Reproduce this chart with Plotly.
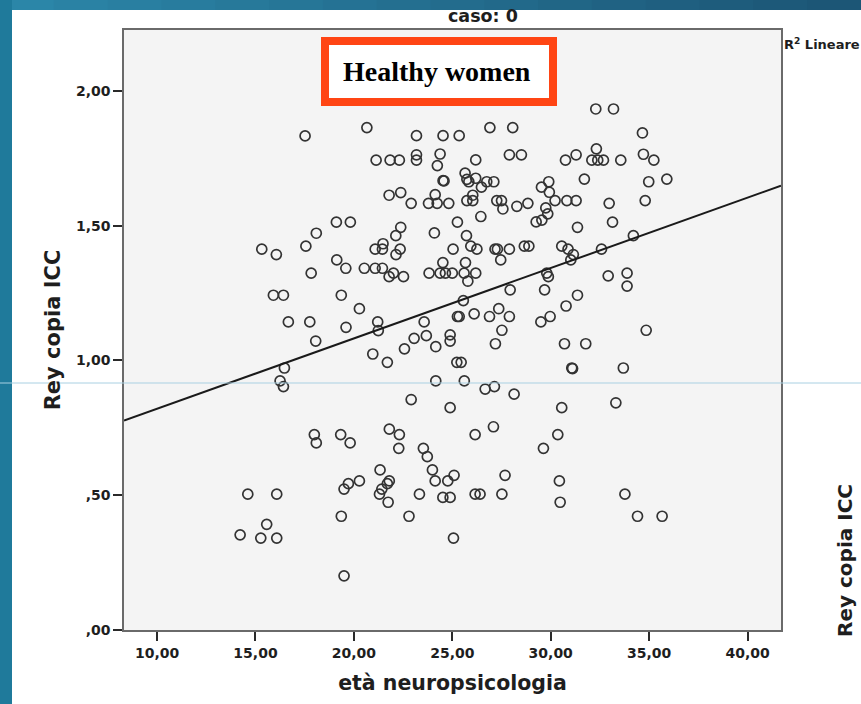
import numpy as np
import plotly.graph_objects as go

# età neuropsicologia (anni) e Rey copia ICC, gruppo caso = 0
eta = [
    17.52, 19.11, 19.82, 18.09, 15.32, 16.06, 17.56, 19.13, 19.59, 17.83,
    20.66, 23.18, 24.53, 25.35, 26.91, 28.07,
    21.13, 21.84, 22.31, 23.18, 23.18, 24.38, 24.24, 26.19, 27.90, 28.51, 30.75, 31.29,
    25.65, 25.74, 25.84, 24.53, 24.58, 26.19, 26.75, 27.11, 26.48,
    21.79, 22.38, 22.91, 24.13, 23.79, 24.23, 24.82, 25.74, 26.04, 26.04, 27.26, 27.50, 27.57, 28.28, 28.84,
    29.53, 29.90, 29.93, 30.22, 30.82, 31.29, 29.75, 29.85, 29.55, 29.26, 31.36,
    26.45, 25.26, 22.38, 22.13, 24.09, 25.72,
    21.48, 21.08, 21.45, 22.35, 22.14, 25.04, 25.94, 26.25, 27.17, 27.29, 27.90, 27.46, 28.66, 28.89, 30.56, 30.88, 31.15, 31.02,
    20.53, 21.08, 21.45, 21.79, 22.01, 22.52, 24.52, 25.67, 23.82, 24.38, 24.65, 25.00, 25.60, 26.19, 25.79, 29.80, 29.88, 27.94, 29.69,
    32.29, 33.19, 34.66, 32.32, 32.09, 32.39, 32.68, 33.56, 34.71, 35.24, 31.71, 34.98, 35.90, 32.97, 34.80, 33.14, 34.20, 32.58, 32.92, 33.88, 33.88,
    15.91, 16.42, 19.36, 20.28, 16.67, 17.76, 19.60, 18.06, 16.47, 16.25, 16.42, 17.99, 18.09, 19.33, 19.81,
    31.36, 25.56, 30.78, 21.21, 21.24, 23.57, 25.26, 25.35, 26.11, 26.89, 27.36, 27.90, 29.50, 29.97,
    23.06, 23.68, 24.89, 24.89, 24.16, 27.52, 27.19, 30.70,
    20.96, 21.70, 22.57, 25.23, 25.45, 31.07, 31.11,
    24.16, 25.61, 26.67, 27.14, 28.14, 22.91, 24.89, 30.56,
    21.80, 22.31, 22.28, 23.53, 23.73, 26.16, 27.09, 30.36, 29.63, 21.33, 23.99,
    34.85, 31.78, 33.69, 33.31,
    14.61, 16.08, 15.57, 14.22, 15.27, 16.08, 19.50, 19.72, 20.28, 19.36, 19.50,
    21.42, 21.80, 21.70, 21.30, 21.74, 23.33, 24.13, 24.77, 25.09, 24.52, 24.89, 26.16, 26.41, 27.52, 27.68, 30.44, 30.48, 22.80, 25.06,
    33.77, 34.41, 35.66,
]

rey_icc = [
    1.833, 1.513, 1.513, 1.472, 1.413, 1.393, 1.424, 1.373, 1.342, 1.324,
    1.864, 1.834, 1.834, 1.834, 1.864, 1.864,
    1.743, 1.743, 1.743, 1.763, 1.743, 1.766, 1.723, 1.744, 1.763, 1.763, 1.743, 1.763,
    1.695, 1.672, 1.663, 1.667, 1.666, 1.676, 1.663, 1.663, 1.643,
    1.613, 1.623, 1.583, 1.615, 1.583, 1.583, 1.583, 1.593, 1.613, 1.593, 1.593, 1.593, 1.562, 1.572, 1.583,
    1.643, 1.663, 1.624, 1.593, 1.593, 1.593, 1.566, 1.544, 1.521, 1.514, 1.494,
    1.534, 1.513, 1.494, 1.463, 1.473, 1.463,
    1.433, 1.413, 1.413, 1.413, 1.393, 1.413, 1.424, 1.413, 1.413, 1.413, 1.413, 1.373, 1.424, 1.424, 1.424, 1.413, 1.393, 1.373,
    1.342, 1.342, 1.342, 1.311, 1.324, 1.311, 1.363, 1.363, 1.324, 1.324, 1.324, 1.324, 1.324, 1.324, 1.294, 1.324, 1.311, 1.262, 1.262,
    1.933, 1.933, 1.844, 1.785, 1.743, 1.743, 1.743, 1.743, 1.765, 1.743, 1.673, 1.663, 1.673, 1.583, 1.593, 1.513, 1.463, 1.413, 1.314, 1.324, 1.276,
    1.242, 1.242, 1.242, 1.192, 1.143, 1.143, 1.123, 1.072, 0.972, 0.924, 0.903, 0.725, 0.694, 0.725, 0.694,
    1.242, 1.222, 1.202, 1.143, 1.111, 1.143, 1.163, 1.163, 1.173, 1.163, 1.192, 1.163, 1.143, 1.163,
    1.082, 1.092, 1.095, 1.072, 1.051, 1.112, 1.062, 1.062,
    1.024, 0.993, 1.043, 0.993, 0.993, 0.972, 0.970,
    0.924, 0.924, 0.894, 0.903, 0.875, 0.855, 0.825, 0.825,
    0.745, 0.725, 0.674, 0.674, 0.643, 0.725, 0.754, 0.725, 0.674, 0.594, 0.594,
    1.112, 1.062, 0.972, 0.843,
    0.504, 0.504, 0.392, 0.353, 0.341, 0.341, 0.523, 0.543, 0.553, 0.422, 0.201,
    0.523, 0.553, 0.543, 0.504, 0.474, 0.504, 0.553, 0.553, 0.574, 0.492, 0.492, 0.504, 0.504, 0.504, 0.574, 0.553, 0.474, 0.422, 0.341,
    0.504, 0.422, 0.422,
]

x_ticks = [10, 15, 20, 25, 30, 35, 40]
x_ticktext = ["10,00", "15,00", "20,00", "25,00", "30,00", "35,00", "40,00"]
y_ticks = [0, 0.5, 1.0, 1.5, 2.0]
y_ticktext = [",00", ",50", "1,00", "1,50", "2,00"]

X_RANGE = [8.32, 41.7]
Y_RANGE = [0, 2.226]

# linear least-squares fit (R² Lineare)
slope, intercept = np.polyfit(np.array(eta), np.array(rey_icc), 1)
fit_x = np.array(X_RANGE)
fit_y = intercept + slope * fit_x

# figure geometry (pixels)
W, H = 861, 704
ML, MR, MT, MB = 124, 80, 30, 74
PW, PH = W - ML - MR, H - MT - MB


def px(xp):
    return (xp - ML) / PW


def py(yp):
    return (H - MB - yp) / PH


BOLD = dict(family="DejaVu Sans", weight="bold", color="#1e1e1e")

fig = go.Figure()
fig.add_trace(go.Scatter(
    x=eta, y=rey_icc, mode="markers",
    marker=dict(symbol="circle-open", size=10, color="#333333",
                line=dict(width=1.7, color="#333333")),
    hoverinfo="skip", showlegend=False,
))
fig.add_trace(go.Scatter(
    x=fit_x, y=fit_y, mode="lines",
    line=dict(color="#1a1a1a", width=2),
    hoverinfo="skip", showlegend=False,
))

shapes = []
# slide frame: teal strip on top (gradient) and on the left
n_seg = 16
c0, c1 = np.array([0x2b, 0x86, 0xa8]), np.array([0x1c, 0x56, 0x76])
for i in range(n_seg):
    t = i / (n_seg - 1)
    c = (c0 * (1 - t) + c1 * t).astype(int)
    shapes.append(dict(
        type="rect", xref="paper", yref="paper", layer="above",
        x0=px(W * i / n_seg), x1=px(W * (i + 1) / n_seg + 1),
        y0=py(10), y1=py(0),
        line=dict(width=0), fillcolor="rgb(%d,%d,%d)" % tuple(c),
    ))
shapes.append(dict(
    type="rect", xref="paper", yref="paper", layer="above",
    x0=px(0), x1=px(12), y0=py(H), y1=py(0),
    line=dict(width=0), fillcolor="#1f7a9b",
))
# thin light-blue rule across the slide
shapes.append(dict(
    type="line", xref="paper", yref="paper", layer="above",
    x0=px(0), x1=px(W), y0=py(383), y1=py(383),
    line=dict(color="#a9d0e2", width=1),
))
# red label box
shapes.append(dict(
    type="rect", xref="paper", yref="paper", layer="above",
    x0=px(325), x1=px(553), y0=py(102), y1=py(41),
    line=dict(color="#ff4514", width=8), fillcolor="white",
))

annotations = [
    dict(text="caso: 0", xref="paper", yref="paper", x=px(483), y=py(16),
         xanchor="center", yanchor="middle", showarrow=False,
         font=dict(size=17.5, **BOLD)),
    dict(text="Healthy women", xref="paper", yref="paper", x=px(437), y=py(71),
         xanchor="center", yanchor="middle", showarrow=False,
         font=dict(family="Liberation Serif", weight="bold", size=28, color="black")),
    dict(text="R<sup>2</sup> Lineare", xref="paper", yref="paper", x=px(782), y=py(44),
         xanchor="left", yanchor="middle", showarrow=False,
         font=dict(size=13, **BOLD)),
    dict(text="Rey copia ICC", xref="paper", yref="paper", x=px(845), y=py(561),
         xanchor="center", yanchor="middle", showarrow=False, textangle=-90,
         font=dict(size=20, **BOLD)),
]

fig.update_layout(
    width=W, height=H, autosize=False,
    margin=dict(l=ML, r=MR, t=MT, b=MB, pad=0),
    paper_bgcolor="white", plot_bgcolor="#f4f4f4",
    shapes=shapes, annotations=annotations,
    xaxis=dict(
        range=X_RANGE, tickvals=x_ticks, ticktext=x_ticktext,
        ticks="outside", ticklen=9, tickwidth=1.5, tickcolor="#2a2a2a",
        showline=True, linecolor="#6a6a6a", linewidth=1.5, mirror=True,
        showgrid=False, zeroline=False,
        tickfont=dict(size=14, **BOLD),
        title=dict(text="età neuropsicologia", font=dict(size=20.5, **BOLD), standoff=16),
    ),
    yaxis=dict(
        range=Y_RANGE, tickvals=y_ticks, ticktext=y_ticktext,
        ticks="outside", ticklen=9, tickwidth=1.5, tickcolor="#2a2a2a",
        showline=True, linecolor="#6a6a6a", linewidth=1.5, mirror=True,
        showgrid=False, zeroline=False,
        tickfont=dict(size=14, **BOLD),
        title=dict(text="Rey copia ICC", font=dict(size=21, **BOLD), standoff=10),
    ),
)

fig.write_html("out.html")
